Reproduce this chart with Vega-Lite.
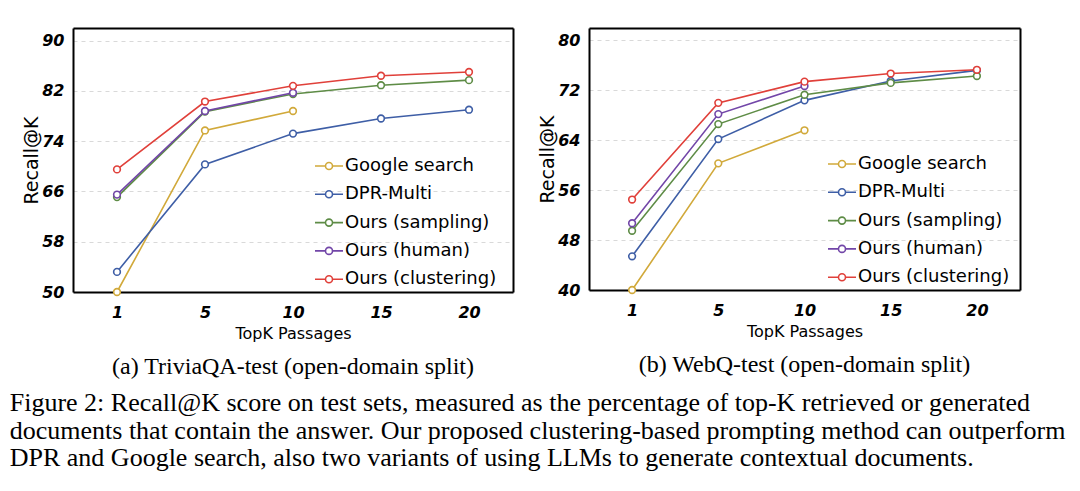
{
  "$schema": "https://vega.github.io/schema/vega-lite/v6.json",
  "background": "white",
  "padding": {"left": 9, "top": 28, "right": 5, "bottom": 5},
  "title": {
    "text": [
      "Figure 2: Recall@K score on test sets, measured as the percentage of top-K retrieved or generated",
      "documents that contain the answer. Our proposed clustering-based prompting method can outperform",
      "DPR and Google search, also two variants of using LLMs to generate contextual documents."
    ],
    "orient": "bottom",
    "anchor": "start",
    "frame": "bounds",
    "font": "Liberation Serif",
    "fontSize": 26,
    "fontWeight": "normal",
    "lineHeight": 27.5,
    "color": "black",
    "offset": 11,
    "dx": -13
  },
  "datasets": {
    "trivia": [
      {"K": 1, "method": "Google search", "recall": 50.0},
      {"K": 5, "method": "Google search", "recall": 75.7},
      {"K": 10, "method": "Google search", "recall": 78.8},
      {"K": 1, "method": "DPR-Multi", "recall": 53.2},
      {"K": 5, "method": "DPR-Multi", "recall": 70.3},
      {"K": 10, "method": "DPR-Multi", "recall": 75.2},
      {"K": 15, "method": "DPR-Multi", "recall": 77.6},
      {"K": 20, "method": "DPR-Multi", "recall": 79.0},
      {"K": 1, "method": "Ours (sampling)", "recall": 65.1},
      {"K": 5, "method": "Ours (sampling)", "recall": 78.7},
      {"K": 10, "method": "Ours (sampling)", "recall": 81.5},
      {"K": 15, "method": "Ours (sampling)", "recall": 82.9},
      {"K": 20, "method": "Ours (sampling)", "recall": 83.7},
      {"K": 1, "method": "Ours (human)", "recall": 65.5},
      {"K": 5, "method": "Ours (human)", "recall": 78.8},
      {"K": 10, "method": "Ours (human)", "recall": 81.7},
      {"K": 1, "method": "Ours (clustering)", "recall": 69.5},
      {"K": 5, "method": "Ours (clustering)", "recall": 80.3},
      {"K": 10, "method": "Ours (clustering)", "recall": 82.8},
      {"K": 15, "method": "Ours (clustering)", "recall": 84.4},
      {"K": 20, "method": "Ours (clustering)", "recall": 85.0}
    ],
    "webq": [
      {"K": 1, "method": "Google search", "recall": 40.0},
      {"K": 5, "method": "Google search", "recall": 60.3},
      {"K": 10, "method": "Google search", "recall": 65.6},
      {"K": 1, "method": "DPR-Multi", "recall": 45.4},
      {"K": 5, "method": "DPR-Multi", "recall": 64.2},
      {"K": 10, "method": "DPR-Multi", "recall": 70.4},
      {"K": 15, "method": "DPR-Multi", "recall": 73.5},
      {"K": 20, "method": "DPR-Multi", "recall": 75.2},
      {"K": 1, "method": "Ours (sampling)", "recall": 49.5},
      {"K": 5, "method": "Ours (sampling)", "recall": 66.6},
      {"K": 10, "method": "Ours (sampling)", "recall": 71.3},
      {"K": 15, "method": "Ours (sampling)", "recall": 73.2},
      {"K": 20, "method": "Ours (sampling)", "recall": 74.3},
      {"K": 1, "method": "Ours (human)", "recall": 50.7},
      {"K": 5, "method": "Ours (human)", "recall": 68.2},
      {"K": 10, "method": "Ours (human)", "recall": 72.7},
      {"K": 1, "method": "Ours (clustering)", "recall": 54.5},
      {"K": 5, "method": "Ours (clustering)", "recall": 70.0},
      {"K": 10, "method": "Ours (clustering)", "recall": 73.4},
      {"K": 15, "method": "Ours (clustering)", "recall": 74.7},
      {"K": 20, "method": "Ours (clustering)", "recall": 75.3}
    ]
  },
  "spacing": 25,
  "resolve": {
    "scale": {"color": "independent", "y": "independent", "x": "independent"},
    "legend": {"color": "independent"}
  },
  "hconcat": [
    {
      "width": 440,
      "height": 264,
      "data": {"name": "trivia"},
      "title": {"text": "(a) TriviaQA-test (open-domain split)", "orient": "bottom", "anchor": "middle", "font": "Liberation Serif", "fontSize": 24, "fontWeight": "normal", "color": "black", "offset": 14},
      "encoding": {
        "color": {
          "field": "method", "type": "nominal",
          "scale": {"domain": ["Google search", "DPR-Multi", "Ours (sampling)", "Ours (human)", "Ours (clustering)"], "range": ["#d1a93a", "#3e5ea6", "#5e8c46", "#7246a8", "#e0403a"]},
          "legend": {"title": null, "orient": "none", "legendX": 241, "legendY": 123}
        }
      },
      "resolve": {"axis": {"x": "independent", "y": "independent"}},
      "layer": [
        {
          "mark": {"type": "line", "strokeWidth": 1.6},
          "encoding": {
            "x": {"field": "K", "type": "ordinal", "scale": {"domain": [1, 5, 10, 15, 20], "padding": 0.5}, "axis": {"title": "TopK Passages", "labelAngle": 0, "domain": true}},
            "y": {"field": "recall", "type": "quantitative", "scale": {"domain": [50, 92], "nice": false, "zero": false}, "axis": {"title": "Recall@K", "values": [50, 58, 66, 74, 82, 90], "domain": true, "grid": true}}
          }
        },
        {
          "mark": {"type": "point", "filled": false, "fill": "white", "fillOpacity": 1, "size": 45, "strokeWidth": 1.6, "opacity": 1},
          "encoding": {
            "x": {"field": "K", "type": "ordinal", "axis": {"orient": "top", "title": null, "labels": false, "domain": true, "grid": false}},
            "y": {"field": "recall", "type": "quantitative", "axis": {"orient": "right", "title": null, "labels": false, "domain": true, "grid": false}}
          }
        }
      ]
    },
    {
      "width": 431,
      "height": 262,
      "data": {"name": "webq"},
      "title": {"text": "(b) WebQ-test (open-domain split)", "orient": "bottom", "anchor": "middle", "font": "Liberation Serif", "fontSize": 24, "fontWeight": "normal", "color": "black", "offset": 14},
      "encoding": {
        "color": {
          "field": "method", "type": "nominal",
          "scale": {"domain": ["Google search", "DPR-Multi", "Ours (sampling)", "Ours (human)", "Ours (clustering)"], "range": ["#d1a93a", "#3e5ea6", "#5e8c46", "#7246a8", "#e0403a"]},
          "legend": {"title": null, "orient": "none", "legendX": 238, "legendY": 121}
        }
      },
      "resolve": {"axis": {"x": "independent", "y": "independent"}},
      "layer": [
        {
          "mark": {"type": "line", "strokeWidth": 1.6},
          "encoding": {
            "x": {"field": "K", "type": "ordinal", "scale": {"domain": [1, 5, 10, 15, 20], "padding": 0.5}, "axis": {"title": "TopK Passages", "labelAngle": 0, "domain": true}},
            "y": {"field": "recall", "type": "quantitative", "scale": {"domain": [40, 82], "nice": false, "zero": false}, "axis": {"title": "Recall@K", "values": [40, 48, 56, 64, 72, 80], "domain": true, "grid": true}}
          }
        },
        {
          "mark": {"type": "point", "filled": false, "fill": "white", "fillOpacity": 1, "size": 45, "strokeWidth": 1.6, "opacity": 1},
          "encoding": {
            "x": {"field": "K", "type": "ordinal", "axis": {"orient": "top", "title": null, "labels": false, "domain": true, "grid": false}},
            "y": {"field": "recall", "type": "quantitative", "axis": {"orient": "right", "title": null, "labels": false, "domain": true, "grid": false}}
          }
        }
      ]
    }
  ],
  "config": {
    "view": {"stroke": null},
    "axis": {
      "domain": true,
      "domainColor": "black",
      "domainWidth": 2,
      "ticks": false,
      "labelFont": "DejaVu Sans",
      "labelFontWeight": "bold",
      "labelFontStyle": "italic",
      "labelFontSize": 16,
      "labelColor": "black",
      "titleFont": "DejaVu Sans",
      "titleFontWeight": "normal",
      "titleColor": "black"
    },
    "axisX": {"grid": false, "labelPadding": 12, "titleFontSize": 16, "titlePadding": 5},
    "axisY": {"gridDash": [4, 4], "gridColor": "#d9d9d9", "gridWidth": 1, "labelPadding": 9, "titleFontSize": 19, "titlePadding": 0},
    "legend": {
      "labelFont": "DejaVu Sans",
      "labelFontSize": 18,
      "labelColor": "black",
      "labelLimit": 400,
      "symbolType": "M-1,0L-0.25,0M0.25,0L1,0M-0.25,0A0.25,0.25,0,1,0,0.25,0A0.25,0.25,0,1,0,-0.25,0",
      "symbolSize": 784,
      "symbolStrokeWidth": 1.6,
      "symbolFillColor": "white",
      "rowPadding": 4.3,
      "labelOffset": 1,
      "fillColor": null
    }
  }
}
